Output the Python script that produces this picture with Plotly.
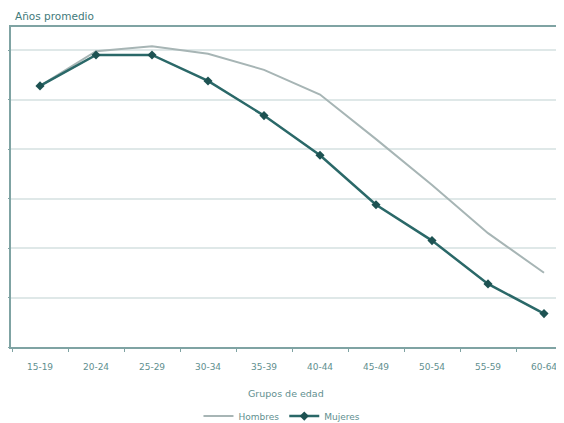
import plotly.graph_objects as go

grupos = ["15-19", "20-24", "25-29", "30-34", "35-39", "40-44", "45-49", "50-54", "55-59", "60-64"]
hombres = [10.55, 11.95, 12.15, 11.85, 11.2, 10.2, 8.4, 6.55, 4.6, 3.0]
mujeres = [10.55, 11.8, 11.8, 10.75, 9.35, 7.75, 5.75, 4.3, 2.55, 1.35]

axis_col = "#7fa3a3"
txt_col = "#5f8f8f"

fig = go.Figure()
fig.add_trace(go.Scatter(x=grupos, y=hombres, name="Hombres", mode="lines",
                         line=dict(color="#a7b5b5", width=2)))
fig.add_trace(go.Scatter(x=grupos, y=mujeres, name="Mujeres", mode="lines+markers",
                         line=dict(color="#2a6868", width=2.5),
                         marker=dict(symbol="diamond", size=7, color="#1d5252")))

# page body has an 8px margin, so the figure is sized to the remaining window
fig.update_layout(
    width=556, height=415,
    margin=dict(l=3, r=0, t=19, b=76, autoexpand=False),
    paper_bgcolor="white", plot_bgcolor="white",
    font=dict(family="DejaVu Sans", size=9, color=txt_col),
    showlegend=True,
    legend=dict(orientation="h", x=0.49, xanchor="center", y=-0.216, yanchor="middle",
                font=dict(size=9, color=txt_col), itemwidth=30),
    xaxis=dict(type="category", range=[-0.518, 9.357], showgrid=False, automargin=False,
               showline=True, linecolor=axis_col, linewidth=1.5, mirror=True,
               ticks="outside", tickson="boundaries", ticklen=3, tickcolor=axis_col,
               ticklabelstandoff=10,
               tickfont=dict(size=9, color=txt_col)),
    yaxis=dict(range=[0, 12.93], dtick=2, showgrid=True, gridcolor="#dfe8e8", gridwidth=1.5,
               automargin=False,
               showline=True, linecolor=axis_col, linewidth=1.5, mirror=True,
               ticks="outside", ticklen=4, tickcolor=axis_col, showticklabels=False,
               zeroline=False),
    annotations=[
        dict(text="Grupos de edad", xref="paper", yref="paper", x=0.497, y=-0.145,
             xanchor="center", yanchor="middle", showarrow=False,
             font=dict(size=9.5, color=txt_col)),
        dict(text="Años promedio", xref="paper", yref="paper", x=0.003, y=1.035,
             xanchor="left", yanchor="middle", showarrow=False,
             font=dict(size=10.5, color="#3f7a7a")),
    ],
)

fig.write_html("out.html")
